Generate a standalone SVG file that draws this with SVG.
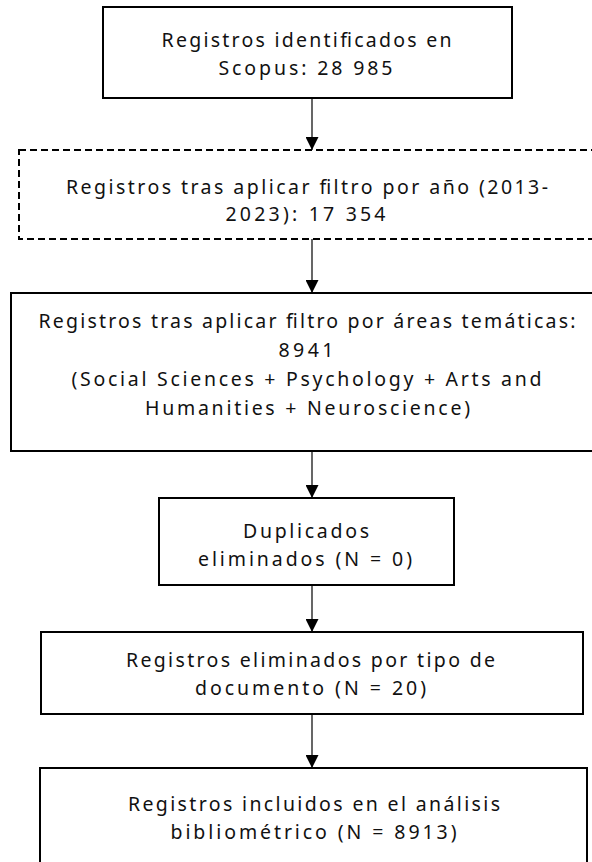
<svg xmlns="http://www.w3.org/2000/svg" width="592" height="862" viewBox="0 0 592 862">
<defs>
<style>
.box{fill:#fff;stroke:#000;stroke-width:2}
.dash{fill:#fff;stroke:#000;stroke-width:2;stroke-dasharray:7 4}
.t{font-family:"Noto Sans","DejaVu Sans",sans-serif;font-size:19.5px;fill:#111;text-anchor:middle}
.c{stroke:#000;stroke-width:1.2;fill:none}
</style>
<marker id="ah" viewBox="0 0 10 10" refX="10" refY="5" markerWidth="13" markerHeight="13" markerUnits="userSpaceOnUse" orient="auto">
<path d="M0,0 L10,5 L0,10 Z" fill="#000"/>
</marker>
</defs>
<rect width="592" height="862" fill="#fff"/>
<g id="connectors">
<line class="c" x1="312" y1="98" x2="312" y2="150" marker-end="url(#ah)"/>
<line class="c" x1="312" y1="239" x2="312" y2="293" marker-end="url(#ah)"/>
<line class="c" x1="312" y1="451" x2="312" y2="498" marker-end="url(#ah)"/>
<line class="c" x1="312" y1="585" x2="312" y2="632" marker-end="url(#ah)"/>
<line class="c" x1="312" y1="714" x2="312" y2="768" marker-end="url(#ah)"/>
</g>
<g id="n1">
<rect class="box" x="103" y="7" width="409" height="91"/>
<text class="t" x="306.5" y="47" textLength="290" lengthAdjust="spacing">Registros identificados en</text>
<text class="t" x="305.5" y="75" textLength="174" lengthAdjust="spacing">Scopus: 28 985</text>
</g>
<g id="n2">
<rect class="dash" x="19" y="150" width="590" height="89"/>
<text class="t" x="307" y="194" textLength="482" lengthAdjust="spacing">Registros tras aplicar filtro por año (2013-</text>
<text class="t" x="305.5" y="221" textLength="160" lengthAdjust="spacing">2023): 17 354</text>
</g>
<g id="n3">
<rect class="box" x="11" y="293" width="600" height="158"/>
<text class="t" x="307" y="328" textLength="537" lengthAdjust="spacing">Registros tras aplicar filtro por áreas temáticas:</text>
<text class="t" x="306" y="357" textLength="55" lengthAdjust="spacing">8941</text>
<text class="t" x="306.5" y="386" textLength="470" lengthAdjust="spacing">(Social Sciences + Psychology + Arts and</text>
<text class="t" x="307.5" y="415" textLength="325" lengthAdjust="spacing">Humanities + Neuroscience)</text>
</g>
<g id="n4">
<rect class="box" x="159" y="498" width="295" height="87"/>
<text class="t" x="306" y="538" textLength="126" lengthAdjust="spacing">Duplicados</text>
<text class="t" x="305" y="566" textLength="214" lengthAdjust="spacing">eliminados (N = 0)</text>
</g>
<g id="n5">
<rect class="box" x="41" y="632" width="542" height="82"/>
<text class="t" x="310.5" y="667" textLength="369" lengthAdjust="spacing">Registros eliminados por tipo de</text>
<text class="t" x="310.5" y="695" textLength="231" lengthAdjust="spacing">documento (N = 20)</text>
</g>
<g id="n6">
<rect class="box" x="40" y="768" width="547" height="110"/>
<text class="t" x="314" y="811" textLength="372" lengthAdjust="spacing">Registros incluidos en el análisis</text>
<text class="t" x="313.5" y="839" textLength="286" lengthAdjust="spacing">bibliométrico (N = 8913)</text>
</g>
</svg>
